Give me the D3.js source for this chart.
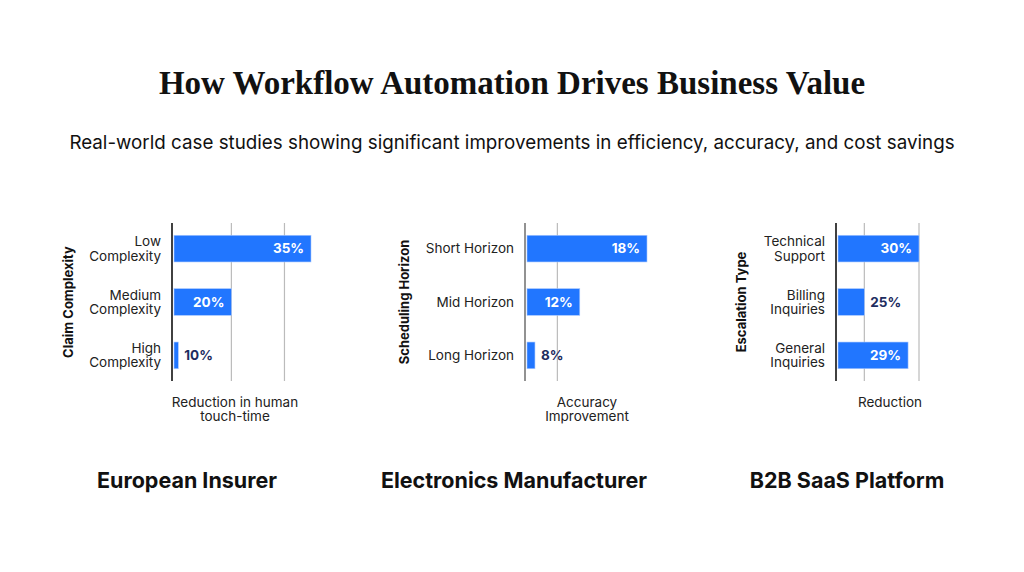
<!DOCTYPE html>
<html lang="en">
<head>
<meta charset="utf-8">
<title>How Workflow Automation Drives Business Value</title>
<script src="https://cdn.jsdelivr.net/npm/d3@7"></script>
<style>
  html, body { margin: 0; padding: 0; background: #fff; }
  svg { display: block; font-family: Inter, "Noto Sans", sans-serif; }
</style>
</head>
<body>
<script>
// --- data ---
const insurerCats = ["Low Complexity", "Medium Complexity", "High Complexity"];
const insurerVals = [35, 20, 10];
const insurerGrid = [20, 30];

const electronicsCats = ["Short Horizon", "Mid Horizon", "Long Horizon"];
const electronicsVals = [18, 12, 8];
const electronicsGrid = [10];

const saasCats = ["Technical Support", "Billing Inquiries", "General Inquiries"];
const saasVals = [30, 25, 29];
const saasGrid = [25, 30];

const panels = [
  { title: "European Insurer", yTitle: "Claim Complexity", xTitle: ["Reduction in human", "touch-time"],
    cats: insurerCats, vals: insurerVals, grid: insurerGrid, wrap: true,
    x0: 173, x1: 311, xTitleX: 235, axisColor: "#111", yTitleX: 68, titleX: 187 },
  { title: "Electronics Manufacturer", yTitle: "Scheduling Horizon", xTitle: ["Accuracy", "Improvement"],
    cats: electronicsCats, vals: electronicsVals, grid: electronicsGrid, wrap: false,
    x0: 526, x1: 647, xTitleX: 587, axisColor: "#777", yTitleX: 404, titleX: 514 },
  { title: "B2B SaaS Platform", yTitle: "Escalation Type", xTitle: ["Reduction"],
    cats: saasCats, vals: saasVals, grid: saasGrid, wrap: true,
    x0: 837, x1: 919, xTitleX: 890, axisColor: "#111", yTitleX: 741, titleX: 847 }
];

const width = 1024, height = 572;
const barColor = "#2176ff";

const svg = d3.select("body").append("svg")
  .attr("width", width)
  .attr("height", height)
  .attr("viewBox", [0, 0, width, height]);

svg.append("text")
  .attr("x", width / 2).attr("y", 94)
  .attr("text-anchor", "middle")
  .attr("font-family", "'Liberation Serif', 'DejaVu Serif', serif")
  .attr("font-weight", 700)
  .attr("font-size", 33)
  .attr("fill", "#111")
  .text("How Workflow Automation Drives Business Value");

svg.append("text")
  .attr("x", width / 2).attr("y", 149)
  .attr("text-anchor", "middle")
  .attr("font-size", 18.8)
  .attr("fill", "#111")
  .text("Real-world case studies showing significant improvements in efficiency, accuracy, and cost savings");

const plotTop = 223, plotBottom = 381;

panels.forEach(p => {
  const g = svg.append("g");

  const x = d3.scaleLinear()
    .domain([d3.min(p.vals) * 0.9, d3.max(p.vals)])
    .range([p.x0, p.x1]);

  const y = d3.scaleBand()
    .domain(p.cats)
    .range([plotTop, plotBottom])
    .paddingInner(0.5)
    .paddingOuter(0.23);

  // gridlines
  g.append("g")
    .selectAll("line")
    .data(p.grid)
    .join("line")
    .attr("x1", d => x(d)).attr("x2", d => x(d))
    .attr("y1", plotTop).attr("y2", plotBottom)
    .attr("stroke", "#bbb")
    .attr("stroke-width", 1.2);

  // bars
  g.append("g")
    .selectAll("rect")
    .data(p.cats)
    .join("rect")
    .attr("x", x.range()[0] + 1)
    .attr("y", d => y(d))
    .attr("width", (d, i) => x(p.vals[i]) - x.range()[0] - 1)
    .attr("height", y.bandwidth())
    .attr("fill", barColor)
    .attr("stroke", "#a9c8ff")
    .attr("stroke-width", 0.6);

  // axis line
  g.append("line")
    .attr("x1", p.x0 - 1).attr("x2", p.x0 - 1)
    .attr("y1", plotTop).attr("y2", plotBottom)
    .attr("stroke", p.axisColor)
    .attr("stroke-width", 1.6);

  // value labels
  g.append("g")
    .selectAll("text")
    .data(p.cats)
    .join("text")
    .each(function (d, i) {
      const bw = x(p.vals[i]) - x.range()[0];
      const inside = bw > 45;
      d3.select(this)
        .attr("x", inside ? x(p.vals[i]) - 7 : x(p.vals[i]) + 6)
        .attr("y", y(d) + y.bandwidth() / 2)
        .attr("dy", "0.36em")
        .attr("text-anchor", inside ? "end" : "start")
        .attr("fill", inside ? "#fff" : "#1e2d5f")
        .attr("font-weight", 700)
        .attr("font-size", 13.5)
        .text(p.vals[i] + "%");
    });

  // category labels
  g.append("g")
    .selectAll("text")
    .data(p.cats)
    .join("text")
    .attr("x", p.x0 - 12)
    .attr("y", d => y(d) + y.bandwidth() / 2)
    .attr("text-anchor", "end")
    .attr("font-size", 13.5)
    .attr("fill", "#222")
    .each(function (d) {
      const lines = p.wrap ? d.split(" ") : [d];
      const t = d3.select(this);
      lines.forEach((l, k) => {
        t.append("tspan")
          .attr("x", p.x0 - 12)
          .attr("dy", k === 0 ? (0.36 - (lines.length - 1) * 0.52) + "em" : "1.04em")
          .text(l);
      });
    });

  // y title
  const cy = (plotTop + plotBottom) / 2;
  g.append("text")
    .attr("transform", `translate(${p.yTitleX + 5},${cy}) rotate(-90)`)
    .attr("text-anchor", "middle")
    .attr("font-size", 13)
    .attr("font-weight", 700)
    .attr("fill", "#111")
    .text(p.yTitle);

  // x title
  const xt = g.append("text")
    .attr("text-anchor", "middle")
    .attr("font-size", 13.5)
    .attr("fill", "#222");
  p.xTitle.forEach((l, k) => {
    xt.append("tspan")
      .attr("x", p.xTitleX)
      .attr("y", 407 + k * 14)
      .text(l);
  });

  // panel title
  g.append("text")
    .attr("x", p.titleX).attr("y", 488)
    .attr("text-anchor", "middle")
    .attr("font-size", 21.5)
    .attr("font-weight", 700)
    .attr("fill", "#111")
    .text(p.title);
});
</script>
</body>
</html>
